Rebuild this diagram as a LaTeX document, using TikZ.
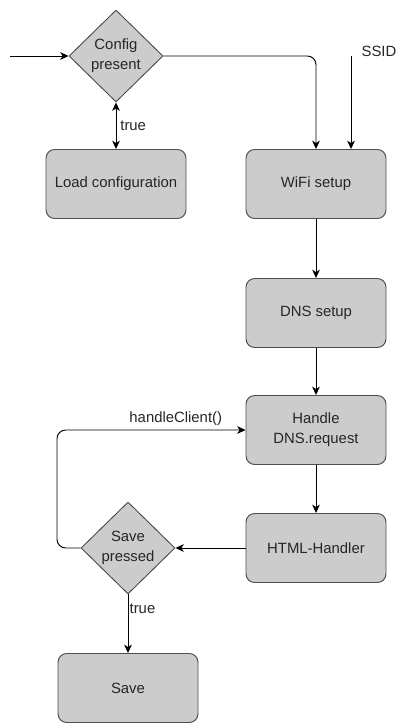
\documentclass[tikz,border=0pt]{standalone}
\usepackage{fontspec}
\setmainfont{Liberation Sans}
\usetikzlibrary{shapes.geometric,arrows.meta}
\definecolor{boxfill}{HTML}{CCCCCC}
\definecolor{boxline}{HTML}{4D4D4D}
\definecolor{txt}{HTML}{262626}
\tikzset{
  every node/.style={text=txt,font=\fontsize{12.7}{17}\selectfont},
  block/.style={draw=boxline,fill=boxfill,line width=0.8pt,rounded corners=2.6mm,
    minimum width=42mm,minimum height=20.7mm,align=center},
  decide/.style={draw=boxline,fill=boxfill,line width=0.8pt,diamond,
    minimum width=28.2mm,minimum height=27.6mm,inner sep=0pt,align=center},
  tip/.tip={Stealth[length=2.5mm,width=2.3mm,inset=0.7mm]},
  flow/.style={line width=0.8pt,-tip},
  twoway/.style={line width=0.8pt,tip-tip},
}
\begin{document}
\begin{tikzpicture}[x=0.3mm,y=-0.3mm]
\useasboundingbox (0,0) rectangle (397,723);

% top row
\node[decide] (config) at (116,56) {Config\\present};
\node[block] (load) at (116,184) {Load configuration};
\node[block] (wifi) at (316,184) {WiFi setup};
\node (ssid) at (379,51) {SSID};
\coordinate (start) at (10,56);
\coordinate (ssidin) at (351,56);

% right column
\node[block] (dns) at (316,313) {DNS setup};
\node[block] (handle) at (316,430) {Handle\\DNS.request};
\node[block] (html) at (316,548) {HTML-Handler};

% bottom
\node[decide] (savep) at (128,548) {Save\\pressed};
\node[block] (save) at (128,688) {Save};
\coordinate (loop) at (57,548);

\draw[flow] (start) -- (config);
\draw[twoway] (config) -- node[right] {true} (load);
\draw[flow,rounded corners=2.6mm] (config.east) -| (wifi.north);
\draw[flow] (ssidin) -- (ssidin |- wifi.north);
\draw[flow] (wifi) -- (dns);
\draw[flow] (dns) -- (handle);
\draw[flow] (handle) -- (html);
\draw[flow] (html) -- (savep);
\draw[flow] (savep) -- node[pos=0.25,right,inner sep=1pt] {true} (save);
\draw[flow,rounded corners=2.6mm] (savep.west) -- (loop) |- node[pos=0.815,above] {handleClient()} (handle.west);
\end{tikzpicture}
\end{document}
